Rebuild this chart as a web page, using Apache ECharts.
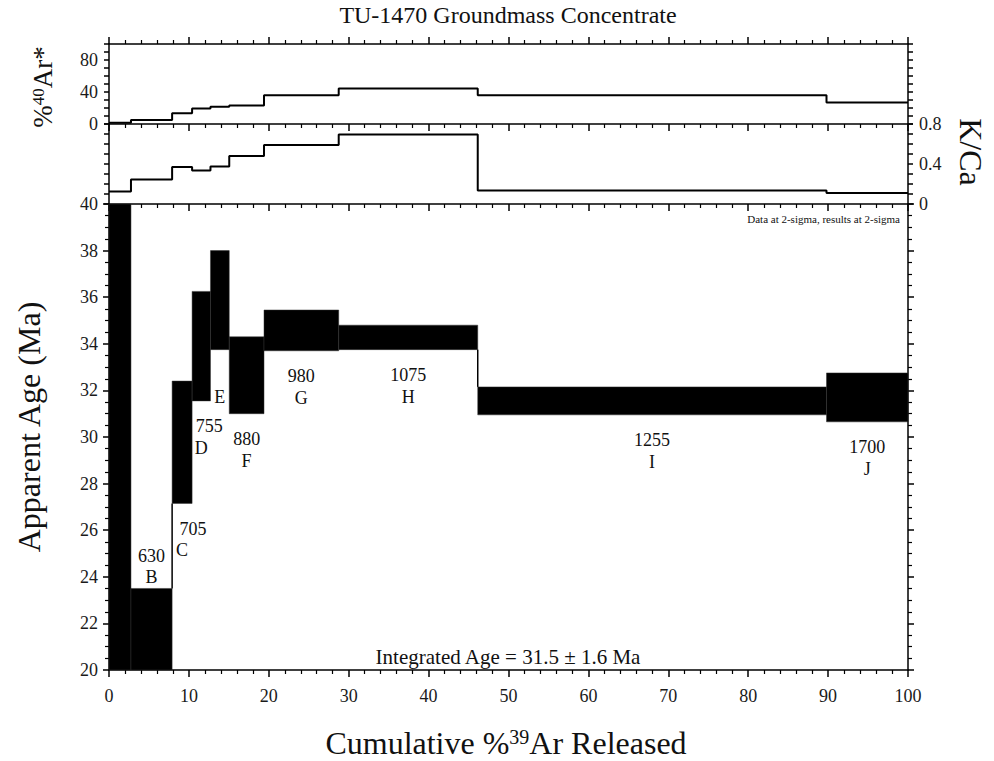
<!DOCTYPE html>
<html>
<head>
<meta charset="utf-8">
<script src="https://cdn.jsdelivr.net/npm/echarts@6/dist/echarts.min.js"></script>
<style>
html,body{margin:0;padding:0;background:#fff;}
#chart{width:994px;height:761px;}
</style>
</head>
<body>
<div id="chart"></div>
<script>
// ---------- data ----------
const stepLetters   = ['A', 'B', 'C', 'D', 'E', 'F', 'G', 'H', 'I', 'J'];
const stepTempC     = ['', '630', '705', '755', '', '880', '980', '1075', '1255', '1700'];
const cumArStart    = [0, 2.75, 7.9, 10.4, 12.7, 15.05, 19.4, 28.75, 46.15, 89.8];
const cumArEnd      = [2.75, 7.9, 10.4, 12.7, 15.05, 19.4, 28.75, 46.15, 89.8, 100];
const ageLow        = [10, 15, 27.15, 31.55, 33.75, 31.0, 33.7, 33.75, 30.95, 30.65];
const ageHigh       = [50, 23.5, 32.4, 36.25, 38.0, 34.3, 35.45, 34.8, 32.15, 32.75];
const radiogenicPct = [1.5, 5, 13.3, 19.5, 21.5, 23, 36, 44.5, 36, 27];
const kCaRatio      = [0.125, 0.245, 0.37, 0.335, 0.375, 0.48, 0.59, 0.695, 0.135, 0.11];
const ageAxis = {min: 20, max: 40, step: 2};
const radAxis = {min: 0, max: 100, step: 10, labelEvery: 40};
const kcaAxis = {min: 0, max: 0.8, step: 0.1, labelEvery: 0.4};
const xAxisRange = {min: 0, max: 100, step: 10};
const titleText = 'TU-1470 Groundmass Concentrate';
const integratedText = 'Integrated Age = 31.5 \u00b1 1.6 Ma';
const noteText = 'Data at 2-sigma, results at 2-sigma';

// ---------- layout / style (not data) ----------
const FONT = 'Liberation Serif';
const G = {left: 109, right: 86};
const tempShiftPx = {C: 11, D: 8};
const INK = '#000';

const boxData = stepLetters.map((s, i) => [
  cumArStart[i], cumArEnd[i], ageLow[i], ageHigh[i],
  i > 0 ? ageLow[i - 1] : NaN, i > 0 ? ageHigh[i - 1] : NaN, i
]);
function stepLine(vals) {
  const d = cumArStart.map((x, i) => [x, vals[i]]);
  d.push([cumArEnd[cumArEnd.length - 1], vals[vals.length - 1]]);
  return d;
}

function renderBox(params, api) {
  const x0 = api.value(0), x1 = api.value(1), lo = api.value(2), hi = api.value(3);
  const pLo = api.value(4), pHi = api.value(5);
  const cs = params.coordSys;
  const a = api.coord([x0, hi]), b = api.coord([x1, lo]);
  const shape = echarts.graphic.clipRectByRect(
    {x: a[0], y: a[1], width: b[0] - a[0], height: b[1] - a[1]},
    {x: cs.x, y: cs.y, width: cs.width, height: cs.height});
  const children = [];
  if (shape) children.push({type: 'rect', shape: shape, style: {fill: INK, stroke: '#333', lineWidth: 0.5}});
  if (!isNaN(pLo)) {
    let u = null, v = null;
    if (lo > pHi) { u = pHi; v = lo; } else if (hi < pLo) { u = hi; v = pLo; }
    if (u !== null) {
      u = Math.max(u, ageAxis.min); v = Math.min(v, ageAxis.max);
      const c0 = api.coord([x0, u]), c1 = api.coord([x0, v]);
      children.push({type: 'line', shape: {x1: c0[0], y1: c0[1], x2: c1[0], y2: c1[1]}, style: {stroke: INK, lineWidth: 1.5}});
    }
  }
  return {type: 'group', children: children};
}

function renderLabel(params, api) {
  const x0 = api.value(0), x1 = api.value(1), lo = api.value(2), hi = api.value(3);
  const i = api.value(6);
  const cx = (api.coord([x0, lo])[0] + api.coord([x1, lo])[0]) / 2;
  const yb = api.coord([x0, Math.max(lo, ageAxis.min)])[1];
  const yt = api.coord([x0, Math.min(hi, ageAxis.max)])[1];
  let tempY, letY;
  if (lo >= ageAxis.min) { tempY = yb + 25.5; letY = tempY + 21.5; }
  else if (hi <= ageAxis.max) { letY = yt - 11; tempY = letY - 21.5; }
  else return {type: 'group', children: []};
  const letter = stepLetters[i];
  const shift = tempShiftPx[letter] || 0;
  const st = {fontSize: 18, fontFamily: FONT, fill: '#111', align: 'center', verticalAlign: 'middle'};
  return {type: 'group', children: [
    {type: 'text', style: Object.assign({}, st, {x: cx + shift, y: tempY, text: stepTempC[i]})},
    {type: 'text', style: Object.assign({}, st, {x: cx, y: letY, text: letter})}
  ]};
}

const axisLine = {show: true, onZero: false, lineStyle: {color: INK, width: 1.5}};
const lbl = {fontFamily: FONT, fontSize: 18, color: '#1a1a1a'};

function xAx(grid, pos, showLabel) {
  return {
    type: 'value', gridIndex: grid, position: pos,
    min: xAxisRange.min, max: xAxisRange.max, interval: xAxisRange.step,
    axisLine: axisLine,
    axisTick: {show: true, inside: false, length: 7, lineStyle: {color: INK, width: 1.5}},
    minorTick: {show: true, splitNumber: 5, length: 4, lineStyle: {color: INK, width: 1.2}},
    splitLine: {show: false}, minorSplitLine: {show: false},
    axisLabel: showLabel ? Object.assign({show: true, margin: 17, showMinLabel: true, showMaxLabel: true}, lbl) : {show: false}
  };
}
function yAx(grid, pos, rng, labelFn, minor) {
  return {
    type: 'value', gridIndex: grid, position: pos,
    min: rng.min, max: rng.max, interval: rng.step,
    axisLine: axisLine,
    axisTick: {show: true, inside: false, length: minor ? 6 : 5, lineStyle: {color: INK, width: 1.5}},
    minorTick: {show: !!minor, splitNumber: minor || 5, length: 4, lineStyle: {color: INK, width: 1.2}},
    splitLine: {show: false}, minorSplitLine: {show: false},
    axisLabel: labelFn ? Object.assign({show: true, margin: 11, showMinLabel: true, showMaxLabel: true, formatter: labelFn}, lbl) : {show: false}
  };
}

const chart = echarts.init(document.getElementById('chart'), null, {renderer: 'svg'});
chart.setOption({
  animation: false,
  backgroundColor: '#fff',
  textStyle: {fontFamily: FONT},
  grid: [
    {left: G.left, right: G.right, top: 44, height: 80, outerBoundsMode: 'none'},
    {left: G.left, right: G.right, top: 124, height: 80, outerBoundsMode: 'none'},
    {left: G.left, right: G.right, top: 204, height: 466, outerBoundsMode: 'none'}
  ],
  xAxis: [
    xAx(0, 'top', false),
    xAx(0, 'bottom', false),
    xAx(1, 'bottom', false),
    xAx(2, 'bottom', true)
  ],
  yAxis: [
    yAx(0, 'left', radAxis, v => (Math.round(v) % radAxis.labelEvery === 0 ? String(Math.round(v)) : '')),
    yAx(0, 'right', radAxis, null),
    yAx(1, 'left', kcaAxis, null),
    yAx(1, 'right', kcaAxis, v => (Math.round(v * 10) % Math.round(kcaAxis.labelEvery * 10) === 0 ? String(+(+v).toFixed(1)) : '')),
    yAx(2, 'left', ageAxis, v => String(Math.round(v)), 4),
    yAx(2, 'right', ageAxis, null, 4)
  ],
  series: [
    {type: 'line', xAxisIndex: 0, yAxisIndex: 0, data: stepLine(radiogenicPct), step: 'end',
      showSymbol: false, symbol: 'none', lineStyle: {color: INK, width: 2}, clip: true, z: 3},
    {type: 'line', xAxisIndex: 2, yAxisIndex: 2, data: stepLine(kCaRatio), step: 'end',
      showSymbol: false, symbol: 'none', lineStyle: {color: INK, width: 2}, clip: true, z: 3},
    {type: 'custom', xAxisIndex: 3, yAxisIndex: 4, data: boxData, renderItem: renderBox, z: 2,
      encode: {x: [0, 1], y: [2, 3]}},
    {type: 'custom', xAxisIndex: 3, yAxisIndex: 4, data: boxData, renderItem: renderLabel, z: 5,
      encode: {x: [0, 1], y: [2, 3]}, clip: false}
  ],
  graphic: [
    {type: 'text', x: 508, y: 15, style: {text: titleText, fontSize: 24, fontFamily: FONT, fill: '#111', align: 'center', verticalAlign: 'middle'}},
    {type: 'text', x: 508, y: 657, style: {text: integratedText, fontSize: 21, fontFamily: FONT, fill: '#111', align: 'center', verticalAlign: 'middle'}},
    {type: 'text', x: 900, y: 219, style: {text: noteText, fontSize: 11, fontFamily: FONT, fill: '#111', align: 'right', verticalAlign: 'middle'}},
    {type: 'text', x: 29, y: 427, rotation: Math.PI / 2,
      style: {text: 'Apparent Age (Ma)', fontSize: 32, fontFamily: FONT, fill: '#111', align: 'center', verticalAlign: 'middle'}},
    {type: 'text', x: 506, y: 743,
      style: {text: '{a|Cumulative %}{s|39}{a|Ar Released}', fontFamily: FONT, fill: '#111', align: 'center', verticalAlign: 'middle',
        rich: {a: {fontSize: 32, fontFamily: FONT, fill: '#111'}, s: {fontSize: 20, fontFamily: FONT, fill: '#111', verticalAlign: 'top'}}}},
    {type: 'text', x: 43, y: 87, rotation: Math.PI / 2,
      style: {text: '{a|%}{s|40}{a|Ar*}', fontFamily: FONT, fill: '#111', align: 'center', verticalAlign: 'middle',
        rich: {a: {fontSize: 27, fontFamily: FONT, fill: '#111'}, s: {fontSize: 17, fontFamily: FONT, fill: '#111', verticalAlign: 'top'}}}},
    {type: 'text', x: 971, y: 152, rotation: -Math.PI / 2,
      style: {text: 'K/Ca', fontSize: 32, fontFamily: FONT, fill: '#111', align: 'center', verticalAlign: 'middle'}}
  ]
});
</script>
</body>
</html>
